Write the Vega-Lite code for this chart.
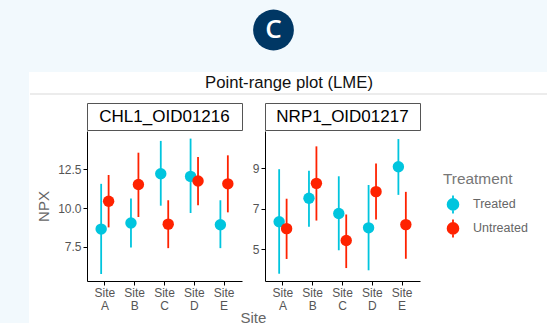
{
  "$schema": "https://vega.github.io/schema/vega-lite/v6.json",
  "background": "white",
  "padding": 0,
  "spacing": 0,
  "config": {
    "view": {"stroke": null},
    "font": "Liberation Sans",
    "legend": {"layout": {"anchor": "middle", "right": {"anchor": "middle"}}}
  },
  "resolve": {"scale": {"color": "independent"}, "legend": {"color": "independent"}},
  "datasets": {
    "pr": [
      {"assay": "CHL1_OID01216", "site": "Site A", "treatment": "Treated", "npx": 8.65, "lo": 5.75, "hi": 11.57},
      {"assay": "CHL1_OID01216", "site": "Site A", "treatment": "Untreated", "npx": 10.45, "lo": 8.76, "hi": 12.14},
      {"assay": "CHL1_OID01216", "site": "Site B", "treatment": "Treated", "npx": 9.04, "lo": 7.46, "hi": 10.62},
      {"assay": "CHL1_OID01216", "site": "Site B", "treatment": "Untreated", "npx": 11.53, "lo": 9.43, "hi": 13.58},
      {"assay": "CHL1_OID01216", "site": "Site C", "treatment": "Treated", "npx": 12.22, "lo": 10.16, "hi": 14.34},
      {"assay": "CHL1_OID01216", "site": "Site C", "treatment": "Untreated", "npx": 8.97, "lo": 7.42, "hi": 10.51},
      {"assay": "CHL1_OID01216", "site": "Site D", "treatment": "Treated", "npx": 12.05, "lo": 9.69, "hi": 14.49},
      {"assay": "CHL1_OID01216", "site": "Site D", "treatment": "Untreated", "npx": 11.75, "lo": 10.19, "hi": 13.3},
      {"assay": "CHL1_OID01216", "site": "Site E", "treatment": "Treated", "npx": 8.93, "lo": 7.42, "hi": 10.51},
      {"assay": "CHL1_OID01216", "site": "Site E", "treatment": "Untreated", "npx": 11.57, "lo": 9.73, "hi": 13.41},
      {"assay": "NRP1_OID01217", "site": "Site A", "treatment": "Treated", "npx": 6.35, "lo": 3.78, "hi": 8.95},
      {"assay": "NRP1_OID01217", "site": "Site A", "treatment": "Untreated", "npx": 6.01, "lo": 4.51, "hi": 7.49},
      {"assay": "NRP1_OID01217", "site": "Site B", "treatment": "Treated", "npx": 7.51, "lo": 6.1, "hi": 8.87},
      {"assay": "NRP1_OID01217", "site": "Site B", "treatment": "Untreated", "npx": 8.25, "lo": 6.41, "hi": 10.08},
      {"assay": "NRP1_OID01217", "site": "Site C", "treatment": "Treated", "npx": 6.76, "lo": 4.94, "hi": 8.6},
      {"assay": "NRP1_OID01217", "site": "Site C", "treatment": "Untreated", "npx": 5.42, "lo": 4.06, "hi": 6.71},
      {"assay": "NRP1_OID01217", "site": "Site D", "treatment": "Treated", "npx": 6.05, "lo": 3.95, "hi": 8.17},
      {"assay": "NRP1_OID01217", "site": "Site D", "treatment": "Untreated", "npx": 7.84, "lo": 6.46, "hi": 9.23},
      {"assay": "NRP1_OID01217", "site": "Site E", "treatment": "Treated", "npx": 9.07, "lo": 7.68, "hi": 10.44},
      {"assay": "NRP1_OID01217", "site": "Site E", "treatment": "Untreated", "npx": 6.21, "lo": 4.52, "hi": 7.83}
    ]
  },
  "vconcat": [
    {
      "width": 547, "height": 60,
      "view": {"fill": "#F2F9FD", "stroke": null},
      "data": {"values": [{"label": "C"}]},
      "layer": [
        {"mark": {"type": "point", "filled": true, "size": 1662, "color": "#003764", "opacity": 1}, "encoding": {}},
        {"mark": {"type": "text", "font": "Open Sans", "fontSize": 26, "fontWeight": 600, "color": "white"}, "encoding": {"text": {"field": "label"}}}
      ]
    },
    {
      "width": 547, "height": 12,
      "view": {"fill": "#F2F9FD", "stroke": null},
      "data": {"values": []},
      "mark": "point"
    },
    {
      "spacing": 0,
      "resolve": {"scale": {"color": "independent"}, "legend": {"color": "independent"}},
      "hconcat": [
        {
          "width": 29, "height": 260,
          "view": {"fill": "#F2F9FD", "stroke": null},
          "data": {"values": []},
          "mark": "point"
        },
        {
          "columns": 1,
          "align": "none",
          "spacing": 7,
          "resolve": {"scale": {"color": "independent"}, "legend": {"color": "independent"}},
          "concat": [
            {
              "width": 518, "height": 22,
              "data": {"values": [{"t": "Point-range plot (LME)"}]},
              "layer": [
                {"mark": {"type": "text", "fontSize": 16.7, "color": "#111"}, "encoding": {"text": {"field": "t"}}},
                {"mark": {"type": "rule", "color": "#D9D9D9", "strokeWidth": 1}, "encoding": {"y": {"value": "height"}}}
              ]
            },
            {
              "spacing": 0,
              "resolve": {"scale": {"color": "independent"}, "legend": {"color": "independent"}},
              "hconcat": [
                {
                  "width": 6, "height": 10,
                  "data": {"values": []},
                  "mark": "point"
                },
                {
                  "spacing": 9,
                  "title": {"text": "Site", "orient": "bottom", "anchor": "middle", "fontSize": 15, "fontWeight": "normal", "color": "#666", "offset": 0, "dx": -29},
                  "hconcat": [
                    {
                      "spacing": 0,
                      "vconcat": [
                        {
                          "width": 155, "height": 27,
                          "view": {"stroke": "#555", "strokeWidth": 1, "fill": "white"},
                          "data": {"values": [{"lab": "CHL1_OID01216"}]},
                          "mark": {"type": "text", "fontSize": 17, "color": "black"},
                          "encoding": {"text": {"field": "lab"}}
                        },
                        {
                          "width": 155, "height": 150,
                          "data": {"name": "pr"},
                          "transform": [{"filter": "datum.assay === 'CHL1_OID01216'"}],
                          "encoding": {
                            "x": {"field": "site", "type": "nominal",
                              "scale": {"domain": ["Site A", "Site B", "Site C", "Site D", "Site E"], "paddingInner": 0, "paddingOuter": 0.1},
                              "axis": {"title": null, "labelAngle": 0, "labelExpr": "split(datum.label, ' ')", "labelFontSize": 12, "labelColor": "#555", "labelLineHeight": 13, "tickSize": 4, "tickColor": "black", "domainColor": "black", "labelPadding": 2}},
                            "xOffset": {"field": "treatment", "type": "nominal", "scale": {"domain": ["Treated", "Untreated"], "paddingInner": 0, "paddingOuter": 1.13}},
                            "color": {"field": "treatment", "type": "nominal",
                              "scale": {"domain": ["Treated", "Untreated"], "range": ["#00C5DE", "#FF2200"]},
                              "legend": {"title": "Treatment", "orient": "right", "offset": 22, "titleFontSize": 15.4, "titleColor": "#777", "titleFontWeight": "normal", "titlePadding": 7, "labelFontSize": 12.5, "labelColor": "#666", "labelOffset": 10, "symbolType": "M0,-1L0,1M-0.6,0A0.6,0.6 0 1,0 0.6,0A0.6,0.6 0 1,0 -0.6,0Z", "symbolSize": 324, "symbolStrokeWidth": 1.8, "rowPadding": -2, "symbolOpacity": 1}}
                          },
                          "layer": [
                            {"mark": {"type": "rule", "strokeWidth": 1.8},
                              "encoding": {
                                "y": {"field": "lo", "type": "quantitative", "scale": {"domain": [5.3, 14.98], "nice": false, "zero": false},
                                  "axis": {"title": "NPX", "values": [7.5, 10, 12.5], "format": ".1f", "grid": false, "tickSize": 4, "tickColor": "black", "domainColor": "black", "labelFontSize": 12, "labelColor": "#555", "labelPadding": 2, "titleFontSize": 15, "titleColor": "#666", "titleFontWeight": "normal", "titlePadding": 6}},
                                "y2": {"field": "hi"}
                              }},
                            {"mark": {"type": "point", "filled": true, "size": 130, "opacity": 1, "shape": "circle"},
                              "encoding": {"y": {"field": "npx", "type": "quantitative"}}}
                          ]
                        }
                      ]
                    },
                    {
                      "spacing": 0,
                      "vconcat": [
                        {
                          "width": 155, "height": 27,
                          "view": {"stroke": "#555", "strokeWidth": 1, "fill": "white"},
                          "data": {"values": [{"lab": "NRP1_OID01217"}]},
                          "mark": {"type": "text", "fontSize": 17, "color": "black"},
                          "encoding": {"text": {"field": "lab"}}
                        },
                        {
                          "width": 155, "height": 150,
                          "data": {"name": "pr"},
                          "transform": [{"filter": "datum.assay === 'NRP1_OID01217'"}],
                          "encoding": {
                            "x": {"field": "site", "type": "nominal",
                              "scale": {"domain": ["Site A", "Site B", "Site C", "Site D", "Site E"], "paddingInner": 0, "paddingOuter": 0.1},
                              "axis": {"title": null, "labelAngle": 0, "labelExpr": "split(datum.label, ' ')", "labelFontSize": 12, "labelColor": "#555", "labelLineHeight": 13, "tickSize": 4, "tickColor": "black", "domainColor": "black", "labelPadding": 2}},
                            "xOffset": {"field": "treatment", "type": "nominal", "scale": {"domain": ["Treated", "Untreated"], "paddingInner": 0, "paddingOuter": 1.13}},
                            "color": {"field": "treatment", "type": "nominal",
                              "scale": {"domain": ["Treated", "Untreated"], "range": ["#00C5DE", "#FF2200"]}}
                          },
                          "layer": [
                            {"mark": {"type": "rule", "strokeWidth": 1.8},
                              "encoding": {
                                "y": {"field": "lo", "type": "quantitative", "scale": {"domain": [3.42, 10.84], "nice": false, "zero": false},
                                  "axis": {"title": null, "values": [5, 7, 9], "format": "d", "grid": false, "tickSize": 4, "tickColor": "black", "domainColor": "black", "labelFontSize": 12, "labelColor": "#555", "labelPadding": 2}},
                                "y2": {"field": "hi"}
                              }},
                            {"mark": {"type": "point", "filled": true, "size": 130, "opacity": 1, "shape": "circle"},
                              "encoding": {"y": {"field": "npx", "type": "quantitative"}}}
                          ]
                        }
                      ]
                    }
                  ]
                }
              ]
            }
          ]
        }
      ]
    }
  ]
}
